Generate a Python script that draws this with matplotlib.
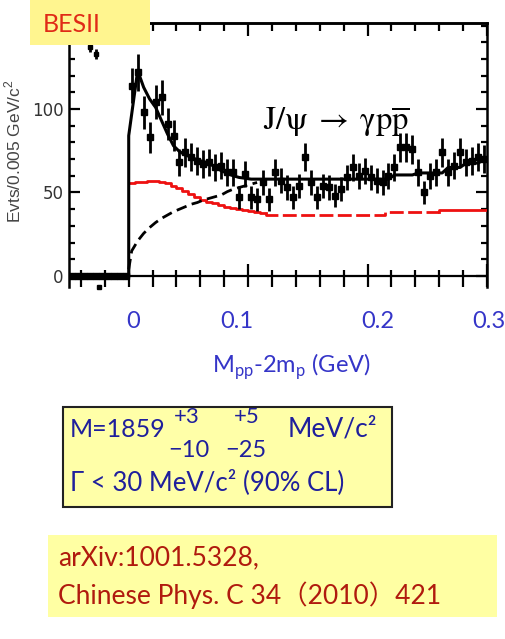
import numpy as np
import matplotlib
matplotlib.use('Agg')
import matplotlib.pyplot as plt
from matplotlib.patches import Rectangle
from matplotlib.ticker import MultipleLocator, FixedLocator

W, H = 505, 639

# --- BESII J/psi -> gamma p pbar, M(ppbar)-2m_p spectrum, 5 MeV bins ---
bin_width = 0.005
m_lo, m_hi = 0.0, 0.3
counts = [114, 122, 98, 83, 104, 107, 91, 84, 68, 74,
          71, 69, 67, 68, 65, 66, 62, 62, 47, 61,
          47, 46, 56, 46, 62, 57, 53, 47, 54, 71,
          56, 47, 54, 53, 48, 52, 59, 65, 60, 63,
          59, 57, 56, 60, 65, 77, 77, 76, 62, 50,
          60, 62, 74, 62, 66, 74, 68, 69, 71, 70]
errors = [10.7, 11.0, 9.9, 9.1, 10.2, 10.3, 9.5, 9.2, 8.2, 8.6,
          8.4, 8.3, 8.2, 8.2, 8.1, 8.1, 7.9, 7.9, 6.9, 7.8,
          6.9, 6.8, 7.5, 6.8, 7.9, 7.5, 7.3, 6.9, 7.3, 8.4,
          7.5, 6.9, 7.3, 7.3, 6.9, 7.2, 7.7, 8.1, 7.7, 7.9,
          7.7, 7.5, 7.5, 7.7, 8.1, 8.8, 8.8, 8.7, 7.9, 7.1,
          7.7, 7.9, 8.6, 7.9, 8.1, 8.6, 8.2, 8.3, 8.4, 8.4]
# below threshold: empty bins
below_counts = [0] * 10

# total fit, one value per bin (first value is the threshold edge)
fit_total = [84, 123, 113, 106, 101, 93, 85, 78, 74.5, 72.5,
             71, 69.5, 68.5, 67.5, 65, 63, 61.5, 60, 59, 58.5,
             58, 58, 58, 58, 58, 58, 58, 58, 58, 58,
             58, 58, 58, 58, 58, 58, 58, 58, 58, 58,
             58, 58, 58, 58, 60.5, 60.5, 60.5, 60.5, 61.7, 61.7,
             61.7, 61.7, 61.7, 65, 65, 65, 67.6, 67.6, 67.6, 69.5]
# alternative fit (red), step histogram
fit_red = [55.5, 56, 56.5, 57, 57, 56.5, 55.5, 54, 52.5, 51,
           49, 47.5, 45.5, 44.5, 43.5, 42.5, 41.5, 40.5, 40, 39.5,
           39, 38.5, 37.5, 36.5, 36.5, 36.5, 36.5, 36.5, 36.5, 36.5,
           36.5, 36.5, 36.5, 36.5, 36.5, 36.5, 36.5, 36.5, 36.5, 36.5,
           36.5, 36.5, 36.5, 38.3, 38.3, 38.3, 38.3, 38.3, 38.3, 38.3,
           38.3, 38.3, 39.5, 39.5, 39.5, 39.5, 39.5, 39.5, 39.5, 39.5]
# background shape (dashed), starts at threshold
bkg_x = [0.0, 0.0025, 0.0075, 0.0125, 0.0175, 0.0225, 0.0275, 0.0325, 0.0375,
         0.0425, 0.0475, 0.0525, 0.0575, 0.0625, 0.0675, 0.0725, 0.0775,
         0.0825, 0.0875, 0.0925, 0.0975, 0.1025, 0.1075]
bkg_y = [4, 15, 21, 25.5, 29, 32, 34.5, 36.5, 38.5,
         40, 41.5, 43, 44, 45.5, 46.5, 47.5, 48.5,
         50.5, 52, 53, 54, 55, 56]

edges = np.arange(len(counts) + 1) * bin_width + m_lo
centers = edges[:-1] + bin_width / 2
below_centers = m_lo - bin_width / 2 - np.arange(len(below_counts))[::-1] * bin_width

fig = plt.figure(figsize=(W / 100, H / 100), dpi=100)
fig.patch.set_facecolor('white')

def fx(x):
    return x / W

def fy(y):
    return 1 - y / H

ax = fig.add_axes([fx(69), fy(287), (487 - 69) / W, (287 - 23) / H])
ax.set_xlim(-0.05, 0.3)
ax.set_ylim(-6.6, 151.5)

# data
ax.errorbar(centers, counts, yerr=errors, fmt='s', ms=4, color='k',
            ecolor='k', elinewidth=2.0, capsize=0, zorder=4)
ax.plot(below_centers, below_counts, 's', ms=5, color='k', zorder=4)
ax.axhline(0, color='k', lw=1.6, zorder=3)
ax.plot([-0.025], [-6.8], 's', ms=3, color='k', clip_on=False)
ax.errorbar([-0.0325, -0.0275], [137, 133], yerr=[3, 3], fmt='s', ms=3,
            color='k', elinewidth=2, capsize=0)

# total fit: sharp rise at threshold, then through the bin centres
fit_xs = np.concatenate([[edges[0], edges[0]], centers[1:]])
fit_ys = np.concatenate([[0], fit_total])
ax.plot(fit_xs, fit_ys, color='k', lw=2.2, zorder=5)

# red fit: solid, dashed, solid pieces
def step_piece(vals, lo, hi):
    xs = edges[lo:hi + 1]
    ys = np.concatenate([vals[lo:hi], [vals[hi - 1]]])
    if lo > 0:
        xs = np.concatenate([[edges[lo]], xs])
        ys = np.concatenate([[vals[lo - 1]], ys])
    return xs, ys

red = '#ee1111'
xs, ys = step_piece(fit_red, 0, 23)
ax.plot(xs, ys, drawstyle='steps-post', color=red, lw=2.0, zorder=3)
xs, ys = step_piece(fit_red, 23, 52)
ax.plot(xs, ys, drawstyle='steps-post', color=red, lw=2.0,
        dashes=(5, 1.6), zorder=3)
xs, ys = step_piece(fit_red, 52, 60)
ax.plot(xs, ys, drawstyle='steps-post', color=red, lw=2.0, zorder=3)

ax.plot(bkg_x, bkg_y, color='k', lw=2.0, dashes=(3.8, 2.0), zorder=3)

# frame and ticks
for side in ['left', 'right', 'top']:
    ax.spines[side].set_linewidth(1.8)
ax.spines['bottom'].set_visible(False)
ax.xaxis.set_major_locator(MultipleLocator(0.1))
ax.xaxis.set_minor_locator(MultipleLocator(0.02))
ax.tick_params(axis='x', which='both', direction='in', bottom=True, top=False,
               labelbottom=False, width=1.6)
ax.tick_params(axis='x', which='major', length=16.5)
ax.tick_params(axis='x', which='minor', length=12.5)

top = ax.secondary_xaxis('top')
top.spines['top'].set_linewidth(1.8)
top.xaxis.set_major_locator(MultipleLocator(0.1))
top.xaxis.set_minor_locator(MultipleLocator(0.02))
top.tick_params(axis='x', which='both', direction='in', labeltop=False, width=1.6)
top.tick_params(axis='x', which='major', length=9.5)
top.tick_params(axis='x', which='minor', length=5.8)

ax.yaxis.set_major_locator(FixedLocator([0, 50, 100]))
ax.yaxis.set_minor_locator(MultipleLocator(10))
ax.tick_params(axis='y', which='both', direction='in', left=True, right=True,
               width=1.6)
ax.tick_params(axis='y', which='major', length=8, pad=4)
ax.tick_params(axis='y', which='minor', length=4.5)
ax.set_yticklabels(['0', '50', '100'])
for lab in ax.get_yticklabels():
    lab.set_family(['Liberation Sans Narrow', 'DejaVu Sans'])
    lab.set_fontsize(12)
    lab.set_color('#333333')

ax.set_ylabel('Evts/0.005 GeV/c$^\\mathregular{2}$', fontsize=12.5,
              color='#444444', family=['Liberation Sans', 'DejaVu Sans'])
ax.yaxis.set_label_coords(-0.108, 0.515)

ax.text(0.1128, 87.5, r'$\mathrm{J/\psi \;\rightarrow\; \gamma p\overline{p}}$',
        fontsize=23.5, math_fontfamily='stix', ha='left', va='baseline', zorder=6)

# slide annotations
slide_font = ['Lato', 'Noto Sans CJK SC', 'DejaVu Sans']
blue = '#3535c8'
for lab, xp in zip(['0', '0.1', '0.2', '0.3'], [133, 237, 378, 489]):
    fig.text(fx(xp), fy(322), lab, ha='center', va='center', fontsize=17,
             color=blue, family=slide_font)
fig.text(fx(291), fy(373), 'M$_\\mathregular{pp}$-2m$_\\mathregular{p}$ (GeV)',
         ha='center', va='baseline', fontsize=17, color=blue, family=slide_font)

fig.add_artist(Rectangle((fx(30), fy(45)), 120 / W, 45 / H, transform=fig.transFigure,
                         facecolor='#fff58f', edgecolor='none', zorder=10))
fig.text(fx(72), fy(24), 'BESII', ha='center', va='center', fontsize=18,
         color='#e02a17', family=slide_font, zorder=11)

navy = '#1f1f9c'
fig.add_artist(Rectangle((fx(63), fy(507)), (392 - 63) / W, (507 - 407) / H,
                         transform=fig.transFigure, facecolor='#ffffa8',
                         edgecolor='#222222', lw=1.5, zorder=10))
fig.text(fx(70), fy(437), 'M=1859', ha='left', va='baseline', fontsize=18,
         color=navy, family=slide_font, zorder=11)
fig.text(fx(187), fy(423), '+3', ha='center', va='baseline', fontsize=16,
         color=navy, family=slide_font, zorder=11)
fig.text(fx(247), fy(423), '+5', ha='center', va='baseline', fontsize=16,
         color=navy, family=slide_font, zorder=11)
fig.text(fx(189), fy(457), '\u221210', ha='center', va='baseline', fontsize=17,
         color=navy, family=slide_font, zorder=11)
fig.text(fx(246), fy(457), '\u221225', ha='center', va='baseline', fontsize=17,
         color=navy, family=slide_font, zorder=11)
fig.text(fx(288), fy(437), 'MeV/c\u00b2', ha='left', va='baseline', fontsize=19,
         color=navy, family=slide_font, zorder=11)
fig.text(fx(70), fy(490), '\u0393 < 30 MeV/c\u00b2 (90% CL)', ha='left',
         va='baseline', fontsize=18.5, color=navy,
         family=['Lato', 'DejaVu Sans'], zorder=11)

darkred = '#b01a0e'
fig.add_artist(Rectangle((fx(48), fy(617)), (497 - 48) / W, (617 - 535) / H,
                         transform=fig.transFigure, facecolor='#ffffa3',
                         edgecolor='none', zorder=10))
fig.text(fx(58), fy(558), 'arXiv:1001.5328,', ha='left', va='center',
         fontsize=19, color=darkred, family=slide_font, zorder=11)
fig.text(fx(58), fy(595), 'Chinese Phys. C 34\uff082010\uff09421', ha='left',
         va='center', fontsize=19, color=darkred, family=slide_font, zorder=11)

fig.savefig('out.png', dpi=100)
